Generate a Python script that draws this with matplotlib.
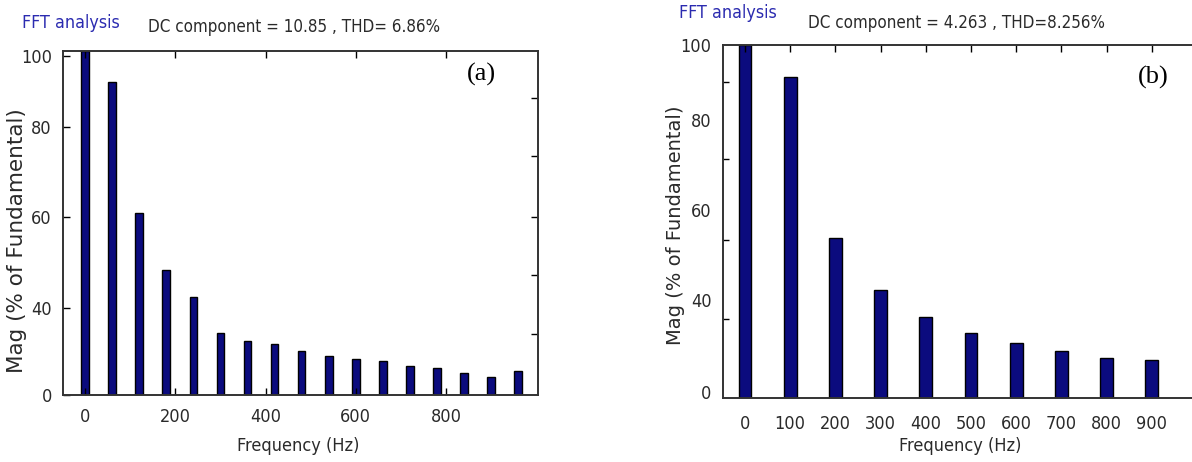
import matplotlib.pyplot as plt
from matplotlib.ticker import FixedLocator, NullFormatter

# --- dane ---
freq_a = [0, 60, 120, 180, 240, 300, 360, 420, 480, 540, 600, 660, 720, 780, 840, 900, 960]
mag_a = [100, 90.9, 52.8, 36.3, 28.4, 18.1, 15.8, 14.8, 12.8, 11.3, 10.5, 9.9, 8.4, 7.8, 6.4, 5.2, 7.0]

freq_b = [0, 100, 200, 300, 400, 500, 600, 700, 800, 900]
mag_b = [100, 90.9, 45.5, 30.7, 23.1, 18.4, 15.6, 13.5, 11.5, 10.8]

ytick_labels = ["0", "40", "60", "80", "100"]
ytick_pos_a = [0, 25.3, 51.7, 77.9, 98.5]
ytick_pos_b = [1.8, 27.9, 53.3, 78.8, 100]
xticks_a = [0, 200, 400, 600, 800]
xticks_b = [0, 100, 200, 300, 400, 500, 600, 700, 800, 900]

titles = ["DC component = 10.85 , THD= 6.86%", "DC component = 4.263 , THD=8.256%"]

W, H = 1192, 462
bar_color = "#0b0b7e"
text_color = "#2a2a2a"
narrow = dict(family="DejaVu Sans", stretch="condensed")

fig = plt.figure(figsize=(W / 100, H / 100), dpi=100)


def px_axes(left, right, top, bottom):
    return fig.add_axes([left / W, (H - bottom) / H, (right - left) / W, (bottom - top) / H])


def style_axes(ax):
    for s in ax.spines.values():
        s.set_linewidth(1.4)
        s.set_color("#333333")


# ---------- (a) ----------
ax1 = px_axes(63, 538, 50.7, 395)
ax1.bar(freq_a, mag_a, width=17, color=bar_color, edgecolor="black", linewidth=1)
style_axes(ax1)
ax1.set_xticks(xticks_a)
ax1.set_xticklabels([str(v) for v in xticks_a], fontsize=13, color=text_color, **narrow)
ax1.set_yticks(ytick_pos_a)
ax1.set_yticklabels(ytick_labels, fontsize=13, color=text_color, **narrow)
ax1.set_xlim(-49, 1004)
ax1.set_ylim(0, 100)
ax1.tick_params(axis="x", direction="in", top=True, length=5, width=1, pad=9)
ax1.tick_params(axis="y", direction="in", length=5, width=1, pad=8)
ax1.yaxis.set_minor_locator(FixedLocator([86.3, 69.3, 51.8, 34.8, 17.7]))
ax1.yaxis.set_minor_formatter(NullFormatter())
ax1.tick_params(axis="y", which="minor", left=False, right=True, direction="in", length=5, width=1)
ax1.set_xlabel("Frequency (Hz)", fontsize=13, color=text_color, **narrow)
ax1.xaxis.set_label_coords(0.495, -0.122)
ax1.set_ylabel("Mag (% of Fundamental)", family="DejaVu Sans", fontsize=15.5,
               color=text_color)
ax1.yaxis.set_label_coords(-0.076, 0.448)
ax1.text(0.88, 0.93, "(a)", transform=ax1.transAxes, ha="center", va="center",
         family="Liberation Serif", fontsize=19)

# ---------- (b) ----------
ax2 = px_axes(722.7, 1197, 45, 398.3)
ax2.bar(freq_b, mag_b, width=28, color=bar_color, edgecolor="black", linewidth=1)
style_axes(ax2)
ax2.set_xticks(xticks_b)
ax2.set_xticklabels([str(v) for v in xticks_b], fontsize=13, color=text_color, **narrow)
ax2.tick_params(axis="x", direction="in", bottom=False, top=True, labelbottom=True,
                length=5, width=1, pad=12)
ax2.set_yticks(ytick_pos_b)
ax2.set_yticklabels(ytick_labels, fontsize=13, color=text_color, **narrow)
ax2.set_xlim(-49.3, 1000)
ax2.set_ylim(0, 100)
ax2.tick_params(axis="y", length=0, pad=8)
ax2.yaxis.set_minor_locator(FixedLocator([89.6, 67.6, 44.8, 22.4]))
ax2.yaxis.set_minor_formatter(NullFormatter())
ax2.tick_params(axis="y", which="minor", direction="in", length=4, width=1)
ax2.set_xlabel("Frequency (Hz)", fontsize=13, color=text_color, **narrow)
ax2.xaxis.set_label_coords(0.5, -0.11)
ax2.set_ylabel("Mag (% of Fundamental)", family="DejaVu Sans", fontsize=14,
               color=text_color)
ax2.yaxis.set_label_coords(-0.0795, 0.49)
ax2.text(0.907, 0.909, "(b)", transform=ax2.transAxes, ha="center", va="center",
         family="Liberation Serif", fontsize=19)

# ---------- napisy nad wykresami ----------
fig.text(22 / W, 1 - 23 / H, "FFT analysis", fontsize=12.8,
         color="#2b2bb0", va="center", **narrow)
fig.text(148 / W, 1 - 27 / H, titles[0], fontsize=12.2,
         color=text_color, va="center", **narrow)
fig.text(679 / W, 1 - 13 / H, "FFT analysis", fontsize=12.8,
         color="#2b2bb0", va="center", **narrow)
fig.text(808 / W, 1 - 23 / H, titles[1], fontsize=12.2,
         color=text_color, va="center", **narrow)

fig.savefig("out.png", dpi=100)
